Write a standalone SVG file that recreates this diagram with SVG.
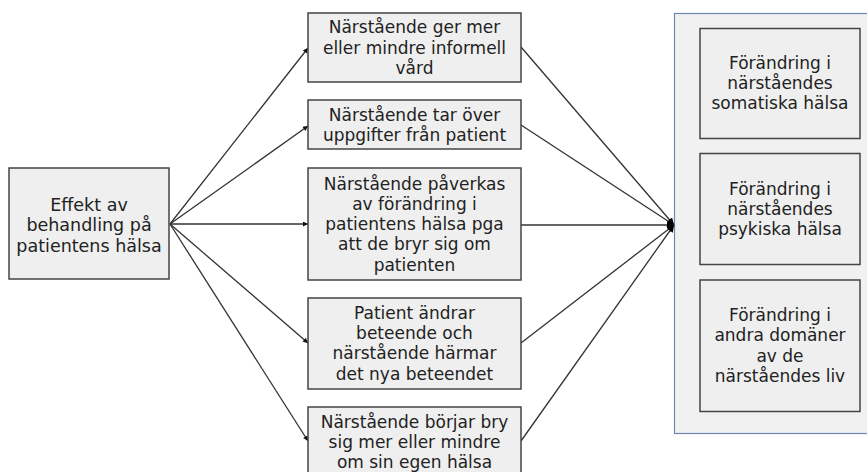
<svg xmlns="http://www.w3.org/2000/svg" width="867" height="472" viewBox="0 0 867 472">
<defs>
<marker id="ah" viewBox="0 0 10 10" refX="10" refY="5" markerWidth="6" markerHeight="5" markerUnits="userSpaceOnUse" orient="auto">
<path d="M0,0 L10,5 L0,10 z" fill="#111"/>
</marker>
<marker id="ah2" viewBox="0 0 10 10" refX="10" refY="5" markerWidth="7" markerHeight="9" markerUnits="userSpaceOnUse" orient="auto">
<path d="M0,0 L10,5 L0,10 z" fill="#000"/>
</marker>
</defs>
<style>
.box{fill:#efefef;stroke:#444;stroke-width:1.5}
.cont{fill:#f1f1f1;stroke:#6f86b3;stroke-width:1.2}
.t{font-family:"DejaVu Sans",Verdana,sans-serif;font-size:17px;fill:#222;text-anchor:middle}
.tl{font-size:17.5px}
.c{stroke:#333;stroke-width:1.3;fill:none}
</style>
<rect width="867" height="472" fill="#ffffff"/>
<g id="group-right">
<rect class="cont" x="674.5" y="13.5" width="196" height="420"/>
</g>
<g id="connectors">
<line class="c" x1="170" y1="224" x2="308" y2="48" marker-end="url(#ah)"/>
<line class="c" x1="170" y1="224" x2="308" y2="126" marker-end="url(#ah)"/>
<line class="c" x1="170" y1="224" x2="308" y2="224" marker-end="url(#ah)"/>
<line class="c" x1="170" y1="224" x2="308" y2="343" marker-end="url(#ah)"/>
<line class="c" x1="170" y1="224" x2="308" y2="441" marker-end="url(#ah)"/>
<line class="c" x1="521" y1="47" x2="674" y2="225" marker-end="url(#ah2)"/>
<line class="c" x1="521" y1="125" x2="674" y2="225" marker-end="url(#ah2)"/>
<line class="c" x1="521" y1="225" x2="674" y2="225" marker-end="url(#ah2)"/>
<line class="c" x1="521" y1="343" x2="674" y2="225" marker-end="url(#ah2)"/>
<line class="c" x1="521" y1="441" x2="674" y2="225" marker-end="url(#ah2)"/>
</g>
<g id="node-effekt">
<rect class="box" x="9" y="168" width="160" height="111"/>
<text class="t tl" x="89" y="210.5">Effekt av</text>
<text class="t tl" x="89" y="231">behandling på</text>
<text class="t tl" x="89" y="251.5">patientens hälsa</text>
</g>
<g id="node-m1">
<rect class="box" x="308" y="13" width="213" height="69"/>
<text class="t" x="414.5" y="33.3">Närstående ger mer</text>
<text class="t" x="414.5" y="53.5">eller mindre informell</text>
<text class="t" x="414.5" y="73.5">vård</text>
</g>
<g id="node-m2">
<rect class="box" x="308" y="100" width="213" height="49"/>
<text class="t" x="414.5" y="120.6">Närstående tar över</text>
<text class="t" x="414.5" y="140.8">uppgifter från patient</text>
</g>
<g id="node-m3">
<rect class="box" x="308" y="168" width="213" height="112"/>
<text class="t" x="414.5" y="189.5">Närstående påverkas</text>
<text class="t" x="414.5" y="209.8">av förändring i</text>
<text class="t" x="414.5" y="230.1">patientens hälsa pga</text>
<text class="t" x="414.5" y="250.4">att de bryr sig om</text>
<text class="t" x="414.5" y="270.7">patienten</text>
</g>
<g id="node-m4">
<rect class="box" x="308" y="298" width="213" height="91"/>
<text class="t" x="414.5" y="318.6">Patient ändrar</text>
<text class="t" x="414.5" y="338.9">beteende och</text>
<text class="t" x="414.5" y="359.2">närstående härmar</text>
<text class="t" x="414.5" y="379.5">det nya beteendet</text>
</g>
<g id="node-m5">
<rect class="box" x="308" y="407" width="213" height="70"/>
<text class="t" x="414.5" y="427.5">Närstående börjar bry</text>
<text class="t" x="414.5" y="447.8">sig mer eller mindre</text>
<text class="t" x="414.5" y="468.1">om sin egen hälsa</text>
</g>
<g id="node-r1">
<rect class="box" x="700" y="28.5" width="160" height="110"/>
<text class="t" x="780" y="68.8">Förändring i</text>
<text class="t" x="780" y="89.1">närståendes</text>
<text class="t" x="780" y="109.4">somatiska hälsa</text>
</g>
<g id="node-r2">
<rect class="box" x="700" y="153.5" width="160" height="111"/>
<text class="t" x="780" y="194.5">Förändring i</text>
<text class="t" x="780" y="214.8">närståendes</text>
<text class="t" x="780" y="235.1">psykiska hälsa</text>
</g>
<g id="node-r3">
<rect class="box" x="700" y="280" width="160" height="131.5"/>
<text class="t" x="780" y="321">Förändring i</text>
<text class="t" x="780" y="341.3">andra domäner</text>
<text class="t" x="780" y="361.6">av de</text>
<text class="t" x="780" y="381.9">närståendes liv</text>
</g>
</svg>
